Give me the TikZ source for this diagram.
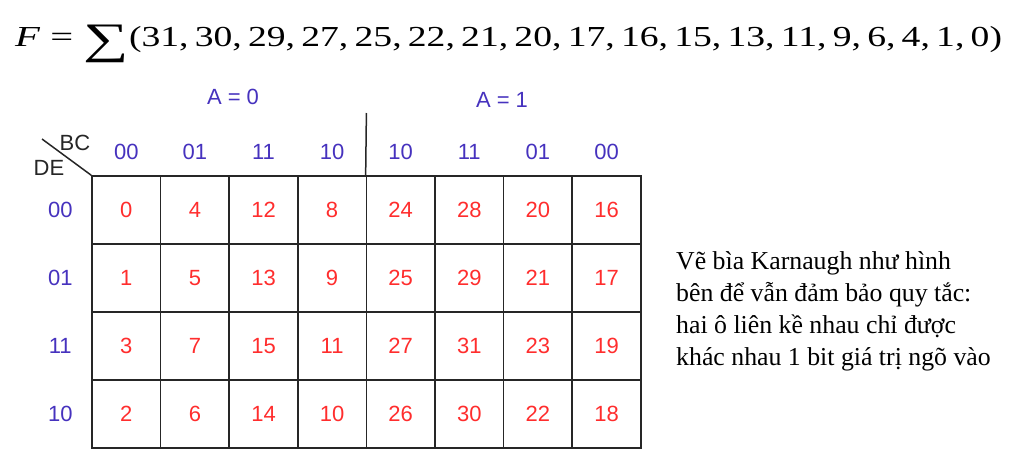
\documentclass[tikz,border=0pt]{standalone}
\usepackage{fontspec}
\setmainfont{Liberation Serif}
\setsansfont{Liberation Sans}
\usetikzlibrary{positioning}
\definecolor{kblue}{RGB}{70,50,190}
\definecolor{kred}{RGB}{255,45,45}

\begin{document}
\begin{tikzpicture}[x=1pt,y=-1pt,node distance=68pt and 68.6pt,on grid,
  cell/.style={draw=black!85,line width=1.5pt,minimum width=68.6pt,minimum height=68pt,
    inner sep=0pt,text=kred,font=\sffamily\fontsize{22}{22}\selectfont},
  head/.style={text=kblue,inner sep=0pt,font=\sffamily\fontsize{22}{22}\selectfont},
  vars/.style={text=black!85,inner sep=0pt,font=\sffamily\fontsize{22}{22}\selectfont}]
\useasboundingbox (0,0) rectangle (1014,476);
\node[font=\fontsize{29}{29}\selectfont,inner sep=0pt,anchor=base west] (sum) at (15,47)
  {\scalebox{1.4}[1]{\textit{F} = }\raisebox{-0.22em}{\scalebox{2.2}[1.5]{∑}}\resizebox{873pt}{\height}{(31,\,30,\,29,\,27,\,25,\,22,\,21,\,20,\,17,\,16,\,15,\,13,\,11,\,9,\,6,\,4,\,1,\,0)}};
% row DE=00
\node[cell] (c_0) at (126.3,210) {0};
\node[cell] (c_4) [right=of c_0] {4};
\node[cell] (c_12) [right=of c_4] {12};
\node[cell] (c_8) [right=of c_12] {8};
\node[cell] (c_24) [right=of c_8] {24};
\node[cell] (c_28) [right=of c_24] {28};
\node[cell] (c_20) [right=of c_28] {20};
\node[cell] (c_16) [right=of c_20] {16};
% row DE=01
\node[cell] (c_1) [below=of c_0] {1};
\node[cell] (c_5) [right=of c_1] {5};
\node[cell] (c_13) [right=of c_5] {13};
\node[cell] (c_9) [right=of c_13] {9};
\node[cell] (c_25) [right=of c_9] {25};
\node[cell] (c_29) [right=of c_25] {29};
\node[cell] (c_21) [right=of c_29] {21};
\node[cell] (c_17) [right=of c_21] {17};
% row DE=11
\node[cell] (c_3) [below=of c_1] {3};
\node[cell] (c_7) [right=of c_3] {7};
\node[cell] (c_15) [right=of c_7] {15};
\node[cell] (c_11) [right=of c_15] {11};
\node[cell] (c_27) [right=of c_11] {27};
\node[cell] (c_31) [right=of c_27] {31};
\node[cell] (c_23) [right=of c_31] {23};
\node[cell] (c_19) [right=of c_23] {19};
% row DE=10
\node[cell] (c_2) [below=of c_3] {2};
\node[cell] (c_6) [right=of c_2] {6};
\node[cell] (c_14) [right=of c_6] {14};
\node[cell] (c_10) [right=of c_14] {10};
\node[cell] (c_26) [right=of c_10] {26};
\node[cell] (c_30) [right=of c_26] {30};
\node[cell] (c_22) [right=of c_30] {22};
\node[cell] (c_18) [right=of c_22] {18};
% column and row labels
\node[head] (bc_0) [above=58pt of c_0] {00};
\node[head] (bc_1) [above=58pt of c_4] {01};
\node[head] (bc_2) [above=58pt of c_12] {11};
\node[head] (bc_3) [above=58pt of c_8] {10};
\node[head] (bc_4) [above=58pt of c_24] {10};
\node[head] (bc_5) [above=58pt of c_28] {11};
\node[head] (bc_6) [above=58pt of c_20] {01};
\node[head] (bc_7) [above=58pt of c_16] {00};
\node[head] (de_0) [left=66pt of c_0] {00};
\node[head] (de_1) [left=66pt of c_1] {01};
\node[head] (de_2) [left=66pt of c_3] {11};
\node[head] (de_3) [left=66pt of c_2] {10};
\node[head] (a_0) at (233,97) {A = 0};
\node[head] (a_1) at (502,100) {A = 1};
\node[vars] (bc) at (75,143) {BC};
\node[vars] (de) at (49,168) {DE};
\coordinate (diag) at (42,139);
\coordinate (split) at (366.4,113);
\draw[black!85,line width=1.5pt] (diag) -- (c_0.north west);
\draw[black!85,line width=1.5pt] (split) -- (c_24.north west);
\node[align=left,anchor=west,inner sep=0pt,font=\fontsize{25.8}{32}\selectfont] (note) at (676,311)
  {Vẽ bìa Karnaugh như hình\\bên để vẫn đảm bảo quy tắc:\\hai ô liên kề nhau chỉ được\\khác nhau 1 bit giá trị ngõ vào};
\end{tikzpicture}
\end{document}
